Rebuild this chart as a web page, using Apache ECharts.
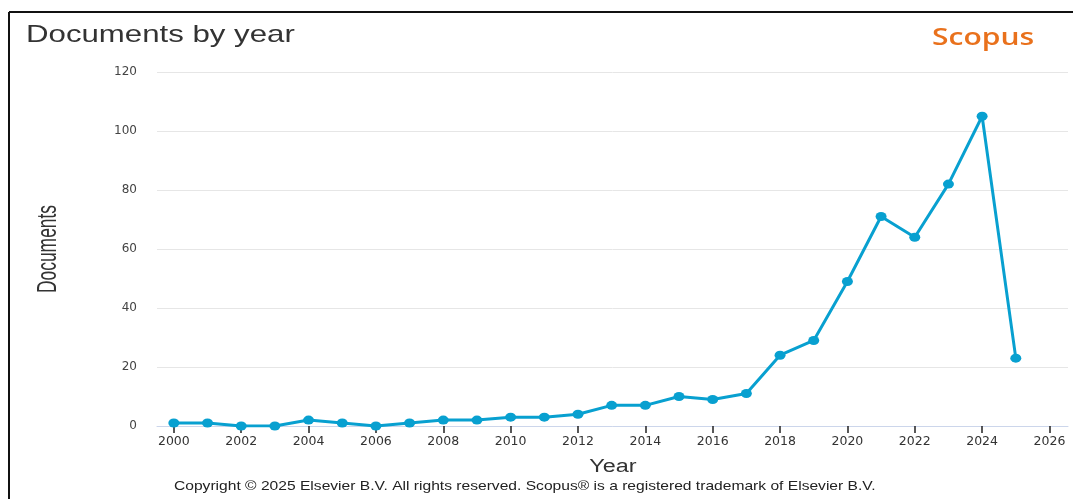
<!DOCTYPE html>
<html><head><meta charset="utf-8">
<script src="https://cdn.jsdelivr.net/npm/echarts@6/dist/echarts.min.js"></script>
<style>html,body{margin:0;padding:0;background:#fff}#c{width:1073px;height:499px}</style>
</head><body><div id="c"></div>
<script>
const years = [2000,2001,2002,2003,2004,2005,2006,2007,2008,2009,2010,2011,2012,2013,2014,2015,2016,2017,2018,2019,2020,2021,2022,2023,2024,2025];
const documents = [1,1,0,0,2,1,0,1,2,2,3,3,4,7,7,10,9,11,24,29,49,71,64,82,105,23];
const xTicks = [2000,2002,2004,2006,2008,2010,2012,2014,2016,2018,2020,2022,2024,2026];
const yTicks = [0,20,40,60,80,100,120];

const chart = echarts.init(document.getElementById('c'));
chart.setOption({
  animation:false,
  grid:{left:157,right:5,top:72,bottom:73},
  graphic:[
    {type:'line',shape:{x1:9,y1:12,x2:1073,y2:12},style:{stroke:'#111',lineWidth:2}},
    {type:'line',shape:{x1:9,y1:12,x2:9,y2:499},style:{stroke:'#111',lineWidth:2}},
    {type:'text',x:26,y:23,scaleX:1.3,style:{text:'Documents by year',font:'24px "Liberation Sans", Arial, sans-serif',fill:'#333',textVerticalAlign:'top'}},
    {type:'text',x:932,y:26,scaleX:1.25,style:{text:'Scopus',font:'600 24px "Open Sans", sans-serif',fill:'#e9711c',textVerticalAlign:'top'}},
    {type:'text',x:613,y:467,scaleX:1.3,style:{text:'Year',font:'18px "Liberation Sans", Arial, sans-serif',fill:'#333',textAlign:'center',textVerticalAlign:'middle'}},
    {type:'text',x:48,y:249,rotation:Math.PI/2,scaleX:0.83,scaleY:1.33,style:{text:'Documents',font:'21px "Liberation Sans", Arial, sans-serif',fill:'#333',textAlign:'center',textVerticalAlign:'middle'}},
    {type:'text',x:174,y:480,scaleX:1.2,style:{text:'Copyright © 2025 Elsevier B.V. All rights reserved. Scopus® is a registered trademark of Elsevier B.V.',font:'13px "Liberation Sans", Arial, sans-serif',fill:'#222',textVerticalAlign:'top'}}
  ],
  xAxis:{
    type:'value',min:1999.5,max:2026.55,
    axisLine:{show:true,lineStyle:{color:'#ccd6eb',width:1}},
    axisTick:{show:true,customValues:xTicks,length:7,lineStyle:{color:'#222',width:1.5}},
    axisLabel:{customValues:xTicks,formatter:v=>String(v),color:'#333',fontSize:12.5,fontFamily:'"DejaVu Sans"',margin:9},
    splitLine:{show:false}
  },
  yAxis:{
    type:'value',min:0,max:120,interval:20,
    axisLine:{show:false},axisTick:{show:false},
    axisLabel:{customValues:yTicks,color:'#444',fontSize:12,fontFamily:'"DejaVu Sans"',margin:20},
    splitLine:{lineStyle:{color:'#e6e6e6',width:1}}
  },
  series:[{
    type:'line',
    data:years.map((y,i)=>[y,documents[i]]),
    symbol:'circle',symbolSize:[11,9],
    lineStyle:{color:'#08a0d0',width:3},
    itemStyle:{color:'#08a0d0'}
  }]
});
</script></body></html>
